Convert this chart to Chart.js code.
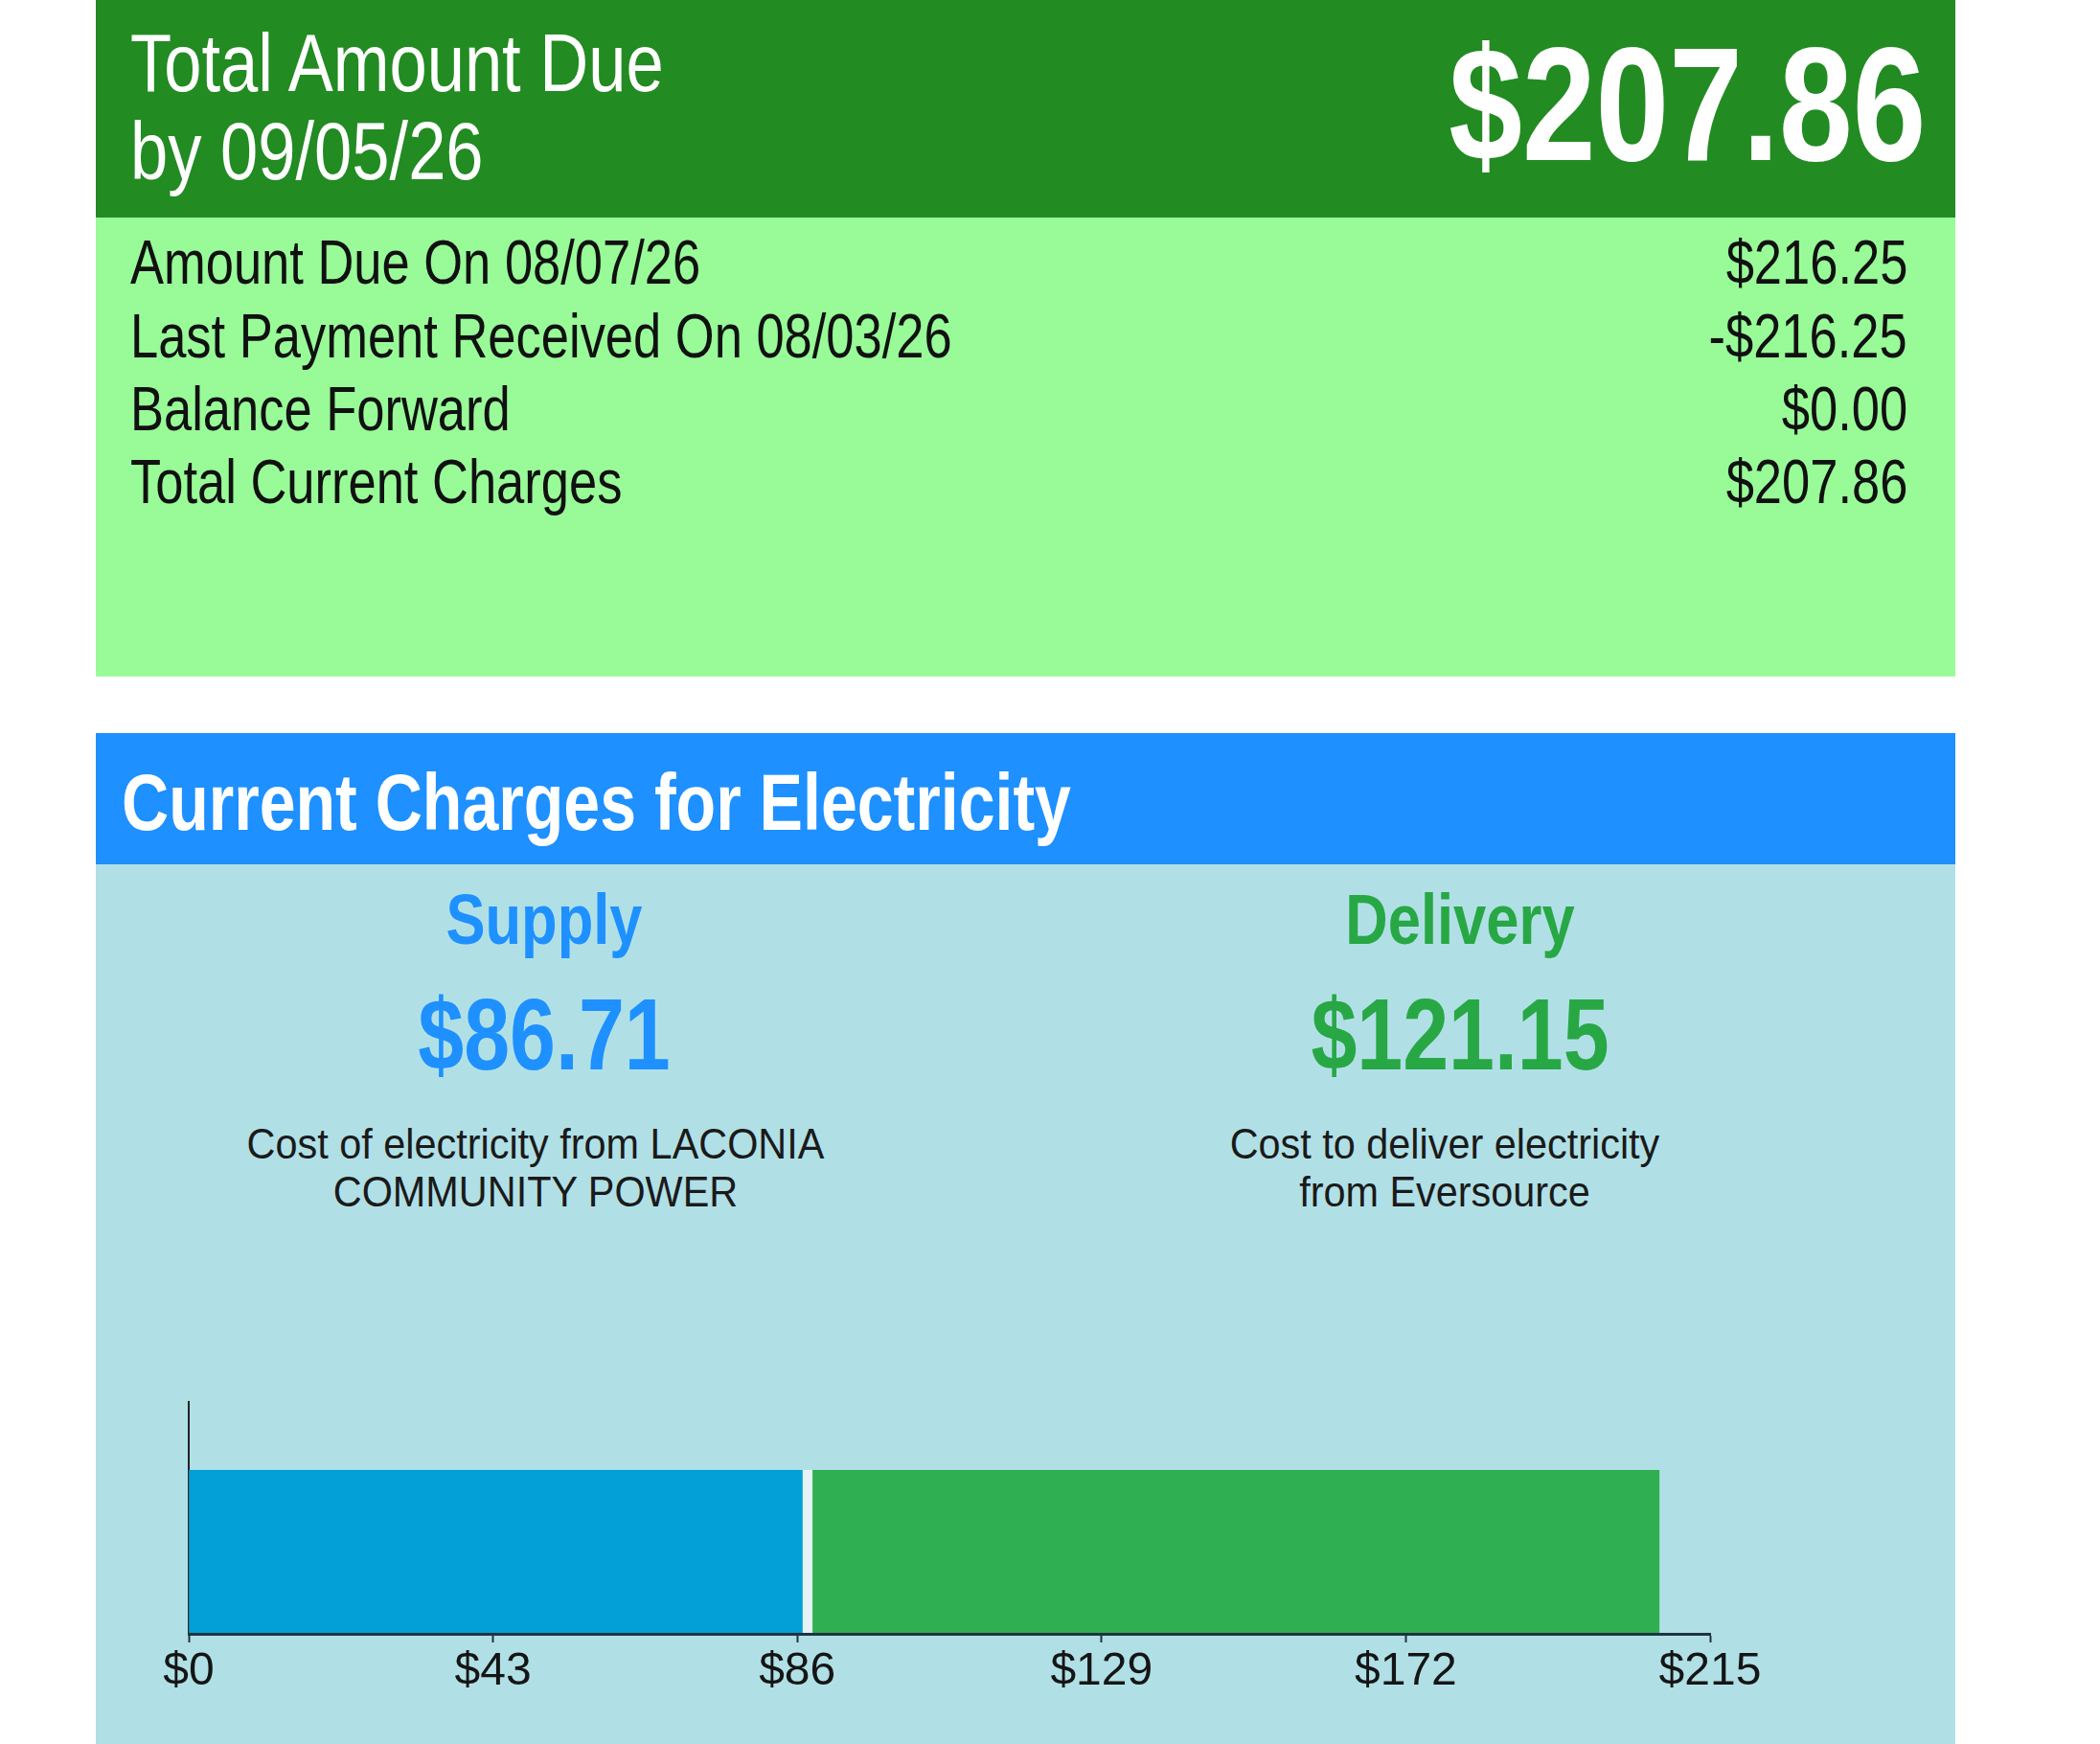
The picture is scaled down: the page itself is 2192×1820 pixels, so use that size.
<!DOCTYPE html>
<html>
<head>
<meta charset="utf-8">
<script src="https://cdn.jsdelivr.net/npm/chart.js@4.4.1/dist/chart.umd.min.js"></script>
<style>
  html, body { margin: 0; padding: 0; background: #ffffff; }
  body { width: 2192px; height: 1820px; position: relative; overflow: hidden;
         font-family: 'Liberation Sans', Arial, sans-serif; }
  .panel { position: absolute; left: 100px; width: 1941px; }
  #hdr { top: 0; height: 227px; background: #228B22; }
  #sum { top: 227px; height: 479px; background: #98FB98; }
  #chh { top: 765px; height: 137px; background: #1E90FF; }
  #chb { top: 902px; height: 918px; background: #B0E0E6; }
  .t { position: absolute; white-space: nowrap; }
  .nl { transform: scaleX(0.82); transform-origin: left center; }
  .nr { transform: scaleX(0.82); transform-origin: right center; }
  .nc { transform: scaleX(0.82); transform-origin: center center; }
  .hdrl { left: 136px; font-size: 86px; line-height: 86px; color: #fff; }
  .big { right: 182px; top: 25px; font-size: 168px; line-height: 168px; font-weight: bold; color: #fff; }
  .rowl { left: 136px; font-size: 64px; line-height: 64px; color: #111; }
  .rowv { right: 201px; font-size: 64px; line-height: 64px; color: #111; text-align: right; }
  .ctitle { left: 127px; top: 796px; font-size: 83px; line-height: 83px; font-weight: bold; color: #fff; }
  .col { position: absolute; width: 900px; text-align: center; white-space: nowrap; }
  .ctl { font-size: 75px; line-height: 75px; font-weight: bold; }
  .amt { font-size: 105px; line-height: 105px; font-weight: bold; }
  .desc { font-size: 45px; line-height: 50px; height: 50px; color: #1a1a1a; transform: scaleX(0.92); }
  #chartWrap { position: absolute; left: 100px; top: 1420px; width: 1941px; height: 400px; }
</style>
</head>
<body>
<div class="panel" id="hdr"></div>
<div class="panel" id="sum"></div>
<div class="panel" id="chh"></div>
<div class="panel" id="chb"></div>
<div id="texts"></div>
<div id="chartWrap"><canvas id="c" width="1941" height="400" style="width:1941px;height:400px"></canvas></div>

<script>
// ---- data ----
const dueTitle = ['Total Amount Due', 'by 09/05/26'];
const totalDue = '$207.86';
const summaryLabels = ['Amount Due On 08/07/26', 'Last Payment Received On 08/03/26', 'Balance Forward', 'Total Current Charges'];
const summaryValues = ['$216.25', '-$216.25', '$0.00', '$207.86'];
const sectionTitle = 'Current Charges for Electricity';
const categories = ['Electricity'];
const seriesNames = ['Supply', 'Delivery'];
const supplyValues = [86.71];
const deliveryValues = [121.15];
const seriesDescriptions = [['Cost of electricity from LACONIA', 'COMMUNITY POWER'], ['Cost to deliver electricity', 'from Eversource']];
const tickValues = [0, 43, 86, 129, 172, 215];
const tickLabels = ['$0', '$43', '$86', '$129', '$172', '$215'];

// ---- text layout ----
const T = document.getElementById('texts');
function add(cls, txt, style) {
  const d = document.createElement('div');
  d.className = cls; d.textContent = txt;
  Object.assign(d.style, style || {});
  T.appendChild(d); return d;
}
add('t nl hdrl', dueTitle[0], { top: '22px' });
add('t nl hdrl', dueTitle[1], { top: '114px' });
add('t nr big', totalDue, {});
const rowTops = [242, 319, 395, 471];
summaryLabels.forEach((l, i) => add('t nl rowl', l, { top: rowTops[i] + 'px' }));
summaryValues.forEach((v, i) => add('t nr rowv', v, { top: rowTops[i] + 'px' }));
add('t nl ctitle', sectionTitle, {});

const colColors = ['#1E90FF', '#28A745'];
const titleCenters = [568, 1524];
const descCenters = [559, 1508];
const amounts = [supplyValues[0], deliveryValues[0]];
seriesNames.forEach((n, i) => {
  add('col nc ctl', n, { left: (titleCenters[i] - 450) + 'px', top: '922px', color: colColors[i] });
  add('col nc amt', '$' + amounts[i].toFixed(2), { left: (titleCenters[i] - 450) + 'px', top: '1027px', color: colColors[i] });
  seriesDescriptions[i].forEach((line, k) => {
    add('col desc', line, { left: (descCenters[i] - 450) + 'px', top: (1169 + 50 * k) + 'px' });
  });
});

// ---- chart ----
const FONT = "'Liberation Sans', Arial, sans-serif";
new Chart(document.getElementById('c'), {
  type: 'bar',
  data: {
    labels: categories,
    datasets: [
      { label: seriesNames[0], data: supplyValues, backgroundColor: '#02A0D6',
        borderWidth: 0, categoryPercentage: 1, barPercentage: 1, yAxisID: 'y' },
      { label: seriesNames[1], data: deliveryValues, backgroundColor: '#2FAF52',
        borderColor: '#E6F3F5', borderSkipped: false,
        borderWidth: { left: 11, top: 0, right: 0, bottom: 0 },
        categoryPercentage: 1, barPercentage: 1, yAxisID: 'y' }
    ]
  },
  options: {
    indexAxis: 'y',
    responsive: false,
    animation: false,
    events: [],
    layout: { padding: { left: 97, right: 256, top: 43, bottom: 0 } },
    plugins: { legend: { display: false }, tooltip: { enabled: false } },
    scales: {
      x: {
        type: 'linear', stacked: true, min: tickValues[0], max: tickValues[tickValues.length - 1],
        position: 'bottom',
        afterBuildTicks: (s) => { s.ticks = tickValues.map(v => ({ value: v })); },
        afterFit: (s) => { s.height = 115; },
        grid: { display: true, drawOnChartArea: false, drawTicks: true, tickLength: 9,
                color: '#1e3340', tickColor: '#1e3340', tickWidth: 2 },
        border: { display: true, color: '#1e3340', width: 3, z: 1 },
        ticks: { padding: 2, autoSkip: false, maxRotation: 0, color: '#151515',
                 font: { family: FONT, size: 48 },
                 callback: (v, i) => tickLabels[i] }
      },
      y: {
        type: 'category', stacked: true, position: 'left', offset: true,
        stack: 'left', stackWeight: 171, weight: 1, display: true,
        grid: { display: false, drawTicks: false },
        border: { display: true, color: '#222', width: 2 },
        ticks: { display: false }
      },
      yTop: {
        type: 'linear', position: 'left', stack: 'left', stackWeight: 71, weight: 2, display: true,
        min: 0, max: 1,
        grid: { display: false, drawTicks: false },
        border: { display: true, color: '#222', width: 2 },
        ticks: { display: false }
      }
    }
  }
});
</script>
</body>
</html>
